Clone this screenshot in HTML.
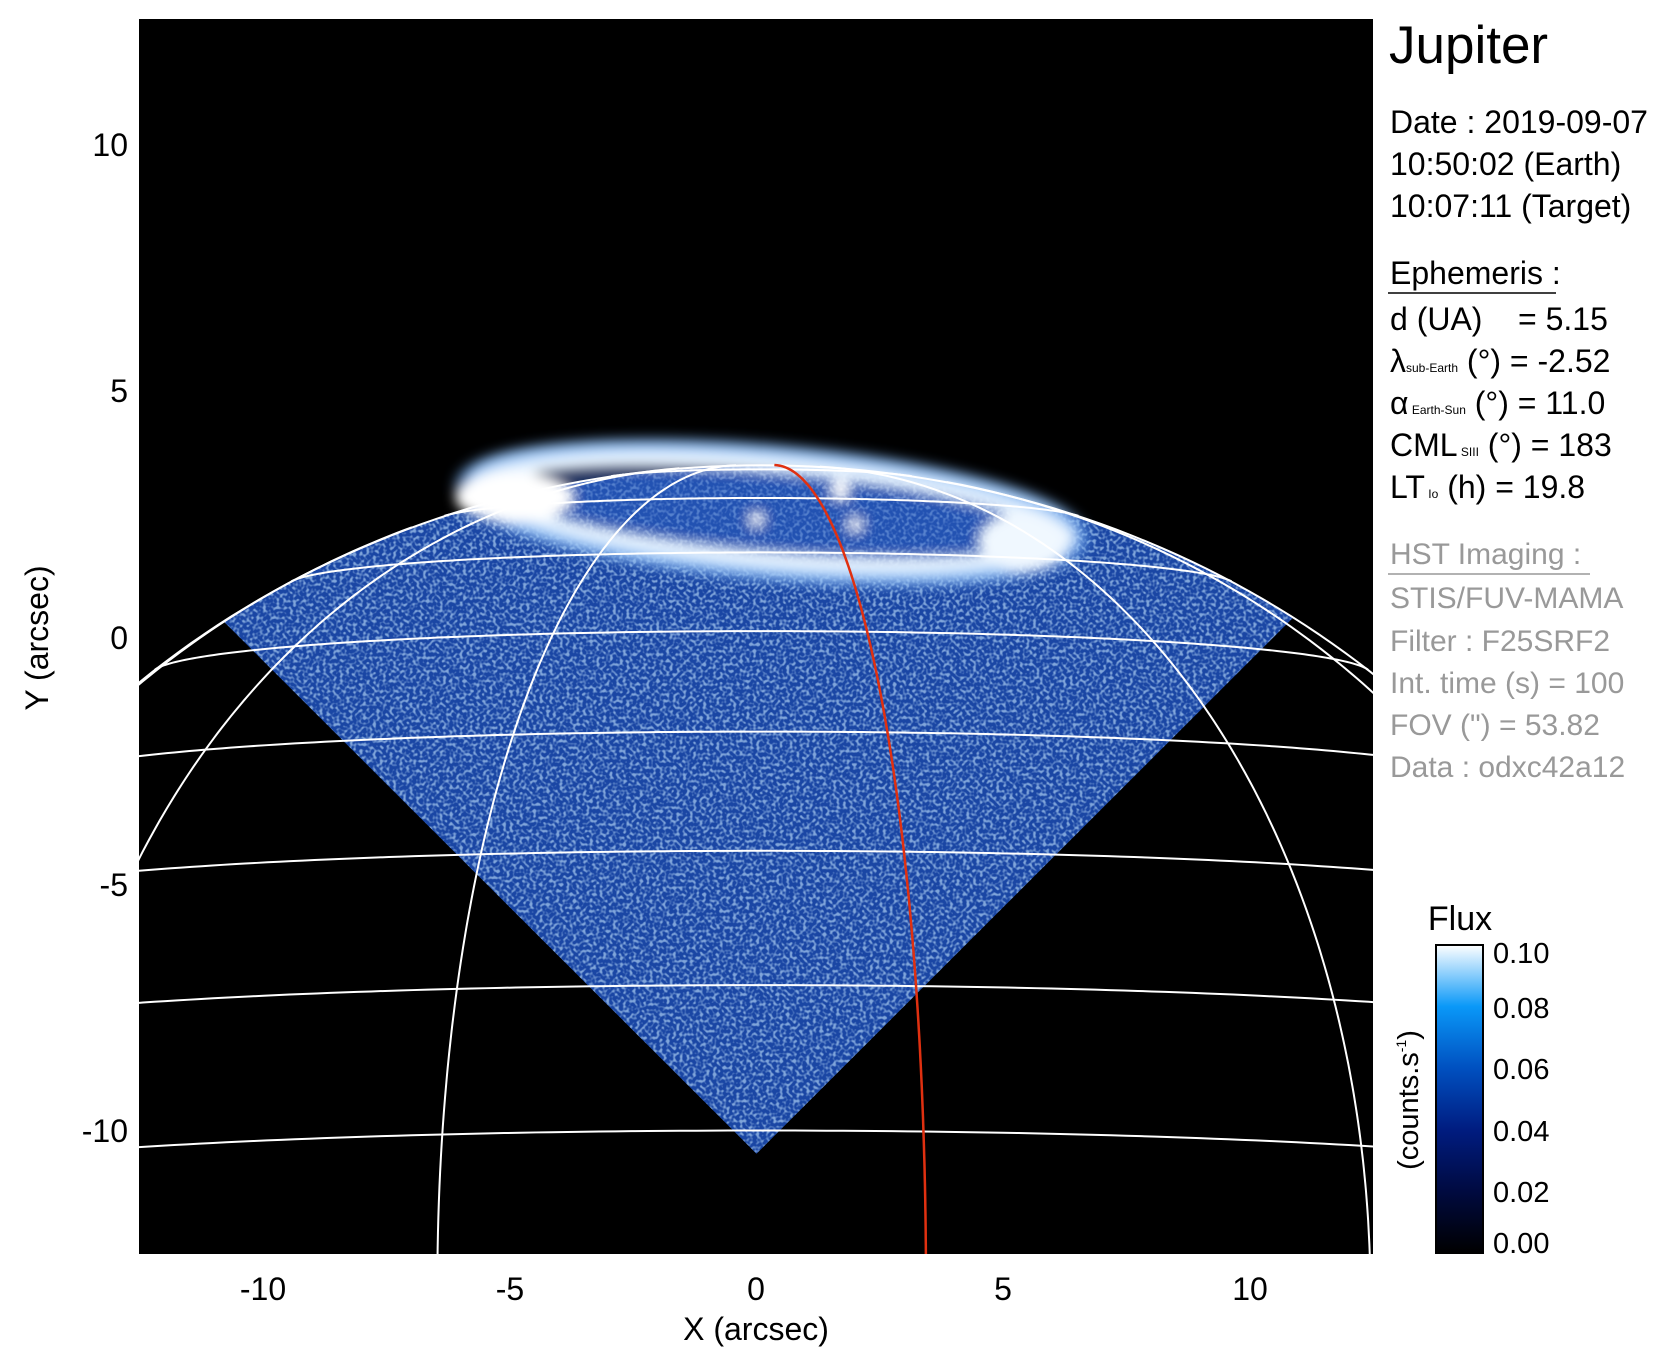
<!DOCTYPE html>
<html><head><meta charset="utf-8"><style>
html,body{margin:0;padding:0;background:#fff;overflow:hidden;width:1677px;height:1367px}
svg{display:block}
text{font-family:"Liberation Sans",sans-serif;white-space:pre}
</style></head><body>
<svg id="s" width="1677" height="1367" viewBox="0 0 1677 1367" xmlns="http://www.w3.org/2000/svg">
<defs>
<clipPath id="plot"><rect x="139" y="19" width="1234" height="1235"/></clipPath>
<clipPath id="pdisk"><ellipse cx="761.4" cy="1348.6" rx="947.5" ry="883.4"/></clipPath>
<clipPath id="tri"><polygon points="16,414 756.5,1153.7 1497,414 1497,340 16,340"/></clipPath>
<linearGradient id="cb" x1="0" y1="1" x2="0" y2="0">
<stop offset="0" stop-color="#000000"/><stop offset="0.2" stop-color="#000a40"/><stop offset="0.4" stop-color="#001c80"/><stop offset="0.6" stop-color="#0050c0"/><stop offset="0.8" stop-color="#0a98f8"/><stop offset="1" stop-color="#ffffff"/>
</linearGradient>
<filter id="noise" x="0" y="0" width="1" height="1">
<feTurbulence type="fractalNoise" baseFrequency="0.3" numOctaves="1" seed="3" result="t"/>
<feColorMatrix in="t" type="matrix" values="0 0 0 0 0.55  0 0 0 0 0.78  0 0 0 0 1  0 0 0 4 -1.8" result="c"/>
<feComposite in="c" in2="SourceGraphic" operator="in"/>
</filter>
<filter id="bl" x="-20%" y="-50%" width="140%" height="200%"><feGaussianBlur stdDeviation="0.12"/></filter>
</defs>
<rect x="139" y="19" width="1234" height="1235" fill="#000"/>
<g clip-path="url(#plot)">
<g clip-path="url(#pdisk)">
<g clip-path="url(#tri)">
<rect x="139" y="300" width="1234" height="900" fill="#1a46a4"/>
<rect x="139" y="300" width="1234" height="900" fill="#fff" filter="url(#noise)" opacity="0.6"/>
</g>
</g>
<g transform="translate(756.5,638) scale(49.35,-49.35)">
<g filter="url(#bl)">
<ellipse cx="0.3" cy="2.55" rx="5.3" ry="0.8" fill="#2a5cc0" opacity="0.5" transform="rotate(-5 0.3 2.55)"/>
<ellipse cx="0.3" cy="2.55" rx="6.0" ry="1.05" fill="none" stroke="#e8f4ff" stroke-width="0.5" transform="rotate(-5 0.3 2.55)"/>
<ellipse cx="0.3" cy="2.55" rx="6.3" ry="1.25" fill="none" stroke="#6aa8f0" stroke-width="0.3" opacity="0.6" transform="rotate(-5 0.3 2.55)"/>
<ellipse cx="-4.9" cy="2.85" rx="1.2" ry="0.5" fill="#fff"/>
<ellipse cx="5.4" cy="1.95" rx="0.9" ry="0.6" fill="#f0f8ff"/>
<circle cx="1.7" cy="3.0" r="0.2" fill="#fff"/>
<circle cx="0" cy="2.4" r="0.15" fill="#fff"/>
<circle cx="2.0" cy="2.3" r="0.15" fill="#fff"/>
</g>
<g id="grid" fill="none" stroke="#fff" stroke-width="2"></g>
</g>
</g>
<g font-size="32" fill="#000" text-anchor="middle">
<text x="263" y="1300">-10</text><text x="510" y="1300">-5</text><text x="756" y="1300">0</text><text x="1003" y="1300">5</text><text x="1250" y="1300">10</text>
<text x="756" y="1340">X (arcsec)</text>
</g>
<g font-size="32" fill="#000" text-anchor="end">
<text x="128" y="156">10</text><text x="128" y="402">5</text><text x="128" y="649">0</text><text x="128" y="896">-5</text><text x="128" y="1142">-10</text>
</g>
<text font-size="32" text-anchor="middle" transform="translate(48,638) rotate(-90)">Y (arcsec)</text>
<text x="1389" y="63" font-size="53">Jupiter</text>
<g font-size="32">
<text x="1390" y="133">Date : 2019-09-07</text>
<text x="1390" y="175">10:50:02 (Earth)</text>
<text x="1390" y="217">10:07:11 (Target)</text>
<text x="1390" y="284">Ephemeris :</text>
<text x="1390" y="330">d (UA)    = 5.15</text>
<text x="1390" y="372">λ<tspan font-size="12">sub-Earth</tspan> (°) = -2.52</text>
<text x="1390" y="414">α<tspan font-size="12"> Earth-Sun</tspan> (°) = 11.0</text>
<text x="1390" y="456">CML<tspan font-size="12"> SIII</tspan> (°) = 183</text>
<text x="1390" y="498">LT<tspan font-size="12"> Io</tspan> (h) = 19.8</text>
</g>
<line x1="1388" y1="293" x2="1556" y2="293" stroke="#000" stroke-width="1.5"/>
<g font-size="30" fill="#999">
<text x="1390" y="564">HST Imaging :</text>
<text x="1390" y="608">STIS/FUV-MAMA</text>
<text x="1390" y="651">Filter : F25SRF2</text>
<text x="1390" y="693">Int. time (s) = 100</text>
<text x="1390" y="735">FOV (") = 53.82</text>
<text x="1390" y="777">Data : odxc42a12</text>
</g>
<line x1="1388" y1="574" x2="1590" y2="574" stroke="#999" stroke-width="1.5"/>
<text x="1460" y="930" font-size="34" text-anchor="middle">Flux</text>
<rect x="1436" y="945" width="47" height="308" fill="url(#cb)" stroke="#000" stroke-width="2"/>
<g font-size="29">
<text x="1493" y="963">0.10</text><text x="1493" y="1018">0.08</text><text x="1493" y="1079">0.06</text><text x="1493" y="1141">0.04</text><text x="1493" y="1202">0.02</text><text x="1493" y="1253">0.00</text>
</g>
<text font-size="29" text-anchor="middle" transform="translate(1418,1100) rotate(-90)">(counts.s<tspan font-size="14" dy="-12">-1</tspan><tspan dy="12">)</tspan></text>
</svg>
<script>
(function(){
var cx=0.1,cy=-14.4,Re=19.2,Rp=17.9,B=-4*Math.PI/180,r=Math.PI/180;
function P(lat,dl){var f=lat*r,l=dl*r;
var x=Re*Math.cos(f)*Math.sin(l);
var y=Rp*Math.sin(f)*Math.cos(B)-Re*Math.cos(f)*Math.sin(B)*Math.cos(l);
var v=Math.cos(f)*Math.cos(l)*Math.cos(B)+Math.sin(f)*Math.sin(B);
return [x+cx,y+cy,v];}
var g=document.getElementById('grid'),ns='http://www.w3.org/2000/svg';
function path(pts,col){var d='',pen=false;pts.forEach(function(p){if(p[2]>=0){d+=(pen?'L':'M')+p[0].toFixed(3)+','+p[1].toFixed(3);pen=true;}else pen=false;});
var e=document.createElementNS(ns,'path');e.setAttribute('d',d);e.setAttribute('vector-effect','non-scaling-stroke');if(col){e.setAttribute('stroke',col);e.setAttribute('stroke-width','2.5');}g.appendChild(e);}
for(var lat=10;lat<=80;lat+=10){var pts=[];for(var dl=-180;dl<=180;dl+=1)pts.push(P(lat,dl));path(pts);}
[-80,-50,-20,40,70].forEach(function(dl){var pts=[];for(var lat=-10;lat<=90;lat+=0.5)pts.push(P(lat,dl));path(pts);});
var lp=[];for(var t=0;t<=360;t+=1){lp.push([Math.cos(t*r)*Re+cx,Math.sin(t*r)*Rp+cy,1]);}path(lp);
var pts=[];for(var lat=-10;lat<=90;lat+=0.5)pts.push(P(lat,10));path(pts,'#e03010');
})();
</script>
</body></html>
